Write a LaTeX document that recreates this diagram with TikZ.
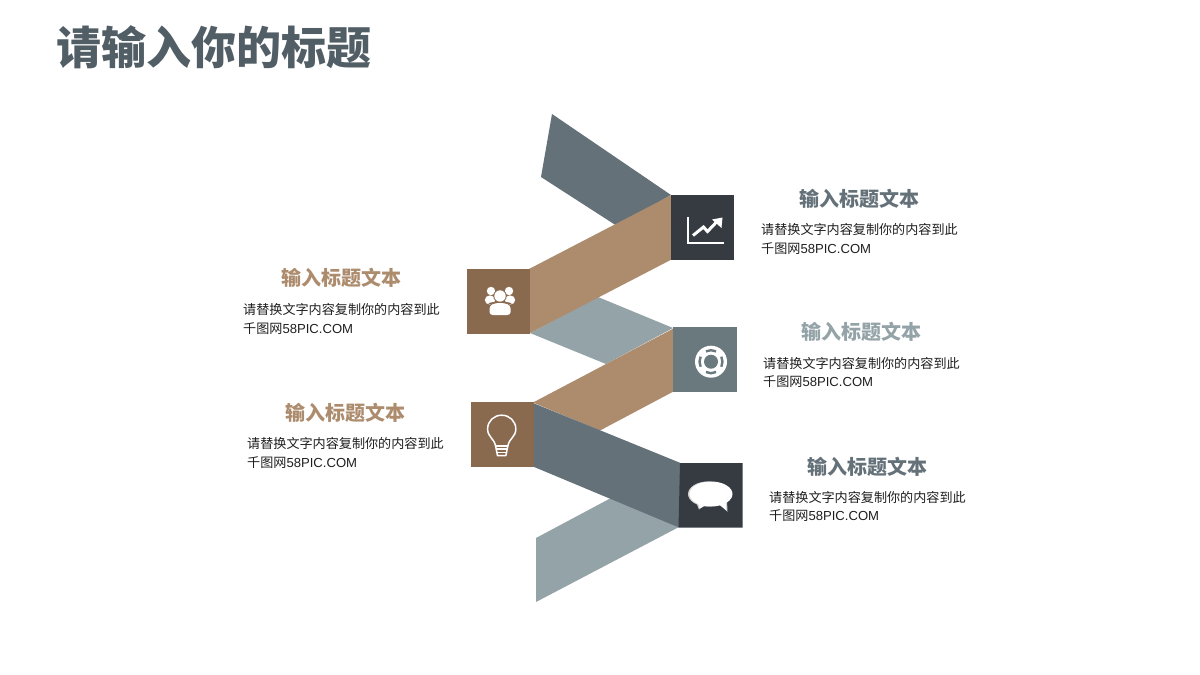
\documentclass[tikz,border=0pt]{standalone}
\usepackage{fontspec}
\setmainfont{Noto Sans CJK SC}
\newfontfamily\latf{Liberation Sans}
\definecolor{cbrown}{HTML}{8A6A4F}
\definecolor{ctan}{HTML}{AD8C6E}
\definecolor{cslate}{HTML}{647179}
\definecolor{clight}{HTML}{94A3A8}
\definecolor{cdark}{HTML}{363B41}
\definecolor{cmid}{HTML}{6A797E}
\definecolor{ctitle}{HTML}{525E66}
\tikzset{
  headtext/.style={inner sep=0pt,anchor=center,font=\fontsize{20}{22}\selectfont\bfseries},
  bodytext/.style={inner sep=0pt,anchor=west,align=left,text=black!88,font=\fontsize{13.1}{18.7}\selectfont},
  iconline/.style={draw=white,line width=1.5pt,line cap=round,line join=round},
}
\newcommand{\bodylines}{请替换文字内容复制你的内容到此\\千图网{\latf 58PIC.COM}}
\begin{document}
\begin{tikzpicture}[x=1pt,y=-1pt]
\useasboundingbox (0,0) rectangle (1200,675);
\fill[white] (0,0) rectangle (1200,675);
% back ribbons
\fill[cslate] (552,114) -- (671,195) -- (617,226) -- (541,177) -- cycle;
\fill[clight] (530,333) -- (598,297) -- (673,328) -- (606,364) -- cycle;
\fill[clight] (536,538) -- (611,498) -- (679,527) -- (536,602) -- cycle;
% tan ribbons
\fill[ctan] (529,269) -- (671.5,195) -- (671.5,259.5) -- (529,333.5) -- cycle;
\fill[ctan] (533,402.5) -- (673.5,328.5) -- (673.5,391.5) -- (600,430.5) -- cycle;
% front slate
\fill[cslate] (533,403) -- (680.5,463) -- (679,527.5) -- (533,466.5) -- cycle;
% squares
\fill[cbrown] (467,269) rectangle (530,333.5);
\fill[cdark] (671,195) rectangle (734,259.5);
\fill[cmid] (673,327) rectangle (737,391.5);
\fill[cbrown] (471,402) rectangle (533.5,467);
\fill[cdark] (680,463) -- (742.5,463) -- (742.5,527.5) -- (678.5,527.5) -- cycle;
% chart icon
\draw[draw=white,line width=1.2pt] (688,216.5) -- (688,243) -- (724,243);
\draw[draw=white,line width=3pt,line join=miter] (693,235.5) -- (703.5,227) -- (707.5,231.5) -- (717,221.5);
\fill[white] (712,219.5) -- (722.5,217.5) -- (721.5,228) -- cycle;
% people icon
\fill[white] (491,291) circle (4.2);
\fill[white] (509,291) circle (4.2);
\fill[white] (490,300) ellipse (5.2 and 4.6);
\fill[white] (510,300) ellipse (5.2 and 4.6);
\fill[cbrown] (500,296) circle (6.7);
\fill[white] (500,296) circle (5.7);
\fill[cbrown] (500,303.5) ellipse (11.5 and 1.7);
\fill[white] (489.5,312) -- (489.5,309) .. controls (489.5,304.5) and (494,303) .. (500,303) .. controls (506,303) and (510.7,304.5) .. (510.7,309) -- (510.7,312) .. controls (510.7,314) and (509,315) .. (507,315) -- (493,315) .. controls (491,315) and (489.5,314) .. (489.5,312) -- cycle;
% lifebuoy icon
\fill[white] (711,361.7) circle (16);
\fill[cmid] (711,361.7) circle (7);
\foreach \a in {0,90,180,270}{
  \draw[cmid,line width=2.4pt,shift={(711,361.7)}]
    ({\a-26}:11.5) arc[start angle=\a-26,end angle=\a+26,radius=11.5];
}
% bulb icon
\draw[iconline] (495.6,446) .. controls (494,438) and (487.6,437) .. (487.6,429) .. controls (487.6,421) and (494,415.2) .. (501.7,415.2) .. controls (509.4,415.2) and (515.8,421) .. (515.8,429) .. controls (515.8,437) and (509.4,438) .. (507.8,446);
\draw[iconline] (495.6,446) -- (497.5,455.5) -- (505.9,455.5) -- (507.8,446) -- cycle;
\draw[iconline,line width=1.2pt] (495.6,445.5) -- (507.8,445.5) (496.4,449) -- (507,449) (497,452.3) -- (506.4,452.3);
% speech icon
\fill[white!82!black] (708,494) ellipse (20 and 12.5);
\fill[white!82!black] (696,502) -- (699,509.5) -- (704,505) -- cycle;
\fill[white!82!black] (720,504) -- (727.5,512) -- (727,500) -- cycle;
\fill[white] (711,494) ellipse (21.5 and 12.5);
\fill[white] (698,503) -- (700,508.5) -- (705,505.5) -- cycle;
\fill[white] (719,504.5) -- (726.5,510.5) -- (725.5,501) -- cycle;
% texts
\node[inner sep=0pt,anchor=west,text=ctitle,font=\fontsize{45}{50}\selectfont\bfseries] (title) at (56,47) {请输入你的标题};
\node[headtext,text=cslate] (h1) at (859,199) {输入标题文本};
\node[bodytext] (b1) at (761,239) {\bodylines};
\node[headtext,text=clight] (h2) at (861,331.5) {输入标题文本};
\node[bodytext] (b2) at (763,372.5) {\bodylines};
\node[headtext,text=cslate] (h3) at (867,466.5) {输入标题文本};
\node[bodytext] (b3) at (769,506.5) {\bodylines};
\node[headtext,text=ctan] (h4) at (341,278) {输入标题文本};
\node[bodytext] (b4) at (243,319) {\bodylines};
\node[headtext,text=ctan] (h5) at (345,413) {输入标题文本};
\node[bodytext] (b5) at (247,453) {\bodylines};
\end{tikzpicture}
\end{document}
